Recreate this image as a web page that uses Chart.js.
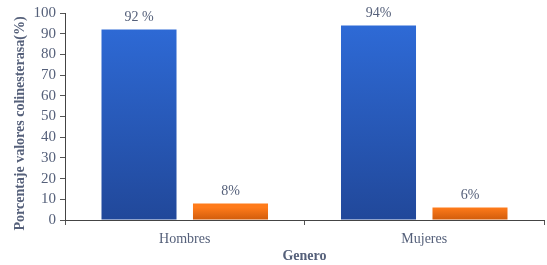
<!DOCTYPE html>
<html><head><meta charset="utf-8">
<script src="https://cdn.jsdelivr.net/npm/chart.js@4/dist/chart.umd.min.js"></script>
<style>html,body{margin:0;padding:0;background:#fff}#wrap{width:547px;height:265px}</style>
</head><body><div id="wrap"><canvas id="c" width="547" height="265"></canvas></div>
<script>
const categories = ["Hombres", "Mujeres"];
const seriesA = [92, 94];
const seriesB = [8, 6];
const labelsA = ["92 %", "94%"];
const labelsB = ["8%", "6%"];
const yTicks = [0,10,20,30,40,50,60,70,80,90,100];
const yTitle = 'Porcentaje valores colinesterasa(%)';

const FONT = "'Liberation Serif', 'Times New Roman', serif";
const TXT = '#55607a';
const gradStops = [['#2e6ad6', '#21489a'], ['#ff7b1a', '#d25d0c']];

const gradPlugin = {
  id:'grad',
  beforeDatasetsDraw(chart){
    const c = chart.ctx;
    chart.data.datasets.forEach((ds, i) => {
      chart.getDatasetMeta(i).data.forEach(el => {
        const g = c.createLinearGradient(0, el.y, 0, el.base);
        g.addColorStop(0, gradStops[i][0]); g.addColorStop(1, gradStops[i][1]);
        el.options.backgroundColor = g;
      });
    });
  }
};

const labelPlugin = {
  id:'vals',
  afterDatasetsDraw(chart){
    const c = chart.ctx;
    c.save();
    c.font = "14px " + FONT;
    c.fillStyle = TXT;
    c.textAlign = 'center';
    c.textBaseline = 'bottom';
    const sets = [labelsA, labelsB];
    chart.data.datasets.forEach((ds, i) => {
      chart.getDatasetMeta(i).data.forEach((el, j) => {
        c.fillText(sets[i][j], el.x, el.y - 5);
      });
    });
    // y axis title
    c.translate(20, (chart.chartArea.top + chart.chartArea.bottom) / 2 + 7);
    c.rotate(-Math.PI / 2);
    c.font = "bold 14px " + FONT;
    c.textBaseline = 'middle';
    c.fillText(yTitle, 0, 0);
    c.restore();
  }
};

new Chart(document.getElementById('c'), {
  type:'bar',
  data:{
    labels: categories,
    datasets:[
      {data: seriesA, backgroundColor: gradStops[0][0], categoryPercentage:0.764, barPercentage:0.82},
      {data: seriesB, backgroundColor: gradStops[1][0], categoryPercentage:0.764, barPercentage:0.82}
    ]
  },
  plugins:[gradPlugin, labelPlugin],
  options:{
    responsive:false, animation:false,
    layout:{padding:{top:10, right:3, left:0, bottom:0}},
    plugins:{legend:{display:false}, tooltip:{enabled:false}},
    scales:{
      x:{
        grid:{display:true, drawOnChartArea:false, offset:true, color:'#555', tickLength:5, tickColor:'#555'},
        border:{display:true, color:'#444', width:1},
        ticks:{font:{family:FONT, size:14}, color:TXT, padding:6},
        title:{display:true, text:'Genero', font:{family:FONT, size:14, weight:'bold'}, color:TXT, padding:{top:2,bottom:0}},
        afterFit(s){ s.height = 45; }
      },
      y:{
        min:0, max:100,
        afterBuildTicks(s){ s.ticks = yTicks.map(v=>({value:v})); },
        grid:{display:true, drawOnChartArea:false, color:'#555', tickLength:5, tickColor:'#555'},
        border:{display:true, color:'#444', width:1},
        ticks:{font:{family:FONT, size:15}, color:TXT, padding:4, autoSkip:false},
        title:{display:false},
        afterFit(s){ s.width = 65; }
      }
    }
  }
});
</script></body></html>
